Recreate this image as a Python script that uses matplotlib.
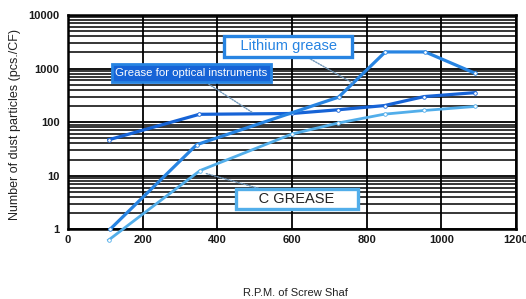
import matplotlib
matplotlib.use("Agg")
import matplotlib.pyplot as plt
import numpy as np

# RPM of screw shaft vs dust particle count (pcs./CF)
rpm_optical = [110, 352, 600, 723, 848, 954, 1090]
dust_optical = [47, 140, 145, 170, 204, 300, 355]

rpm_lithium = [113, 345, 725, 850, 957, 1089]
dust_lithium = [1.0, 38, 293, 2040, 2040, 824]

rpm_cgrease = [109, 354, 600, 723, 848, 954, 1090]
dust_cgrease = [0.63, 12.5, 60, 96, 141, 165, 196]

x_ticks = [0, 200, 400, 600, 800, 1000, 1200]
y_ticks = [1, 10, 100, 1000, 10000]

c_optical = "#1663d6"
c_lithium = "#2784e2"
c_cgrease = "#52aeea"

plt.rcParams['font.family'] = ['Liberation Sans', 'DejaVu Sans']

fig = plt.figure(figsize=(5.26, 2.99), dpi=100)
ax = fig.add_axes([0.129, 0.233, 0.852, 0.717])

ax.set_yscale('log')
ax.set_xlim(0, 1200)
ax.set_ylim(1, 10000)

# grid: every minor log line plus vertical lines every 200 rpm
ax.set_xticks(x_ticks)
ax.set_xticklabels([str(v) for v in x_ticks])
ax.set_yticks(y_ticks)
ax.set_yticklabels([str(v) for v in y_ticks])
ax.yaxis.set_minor_locator(matplotlib.ticker.LogLocator(base=10, subs=np.arange(2, 10)))
ax.yaxis.set_minor_formatter(matplotlib.ticker.NullFormatter())
ax.grid(which='major', axis='both', color='black', linewidth=1.3)
ax.grid(which='minor', axis='y', color='black', linewidth=1.1)
ax.tick_params(which='both', length=0)
ax.tick_params(axis='y', pad=6, labelsize=8)
ax.tick_params(axis='x', pad=4, labelsize=8)
for lbl in ax.get_xticklabels() + ax.get_yticklabels():
    lbl.set_fontweight('bold')
    lbl.set_color('#1a1a1a')
for s in ax.spines.values():
    s.set_linewidth(1.8)
ax.set_axisbelow(True)

mk = dict(marker='o', markersize=2.6, markerfacecolor='white', markeredgewidth=0.6,
          clip_on=False, solid_joinstyle='miter')
ax.plot(rpm_cgrease, dust_cgrease, color=c_cgrease, linewidth=2.0,
        markeredgecolor=c_cgrease, zorder=3, **mk)
ax.plot(rpm_optical, dust_optical, color=c_optical, linewidth=2.3,
        markeredgecolor=c_optical, zorder=4, **mk)
ax.plot(rpm_lithium, dust_lithium, color=c_lithium, linewidth=2.3,
        markeredgecolor=c_lithium, zorder=5, **mk)

# labels with dotted leader lines
leader = dict(arrowstyle='-', linestyle=(0, (1, 1)), color='#6f96b8', linewidth=1.0,
              shrinkA=0, shrinkB=0)
ax.annotate('   Lithium grease   ', xy=(762, 540), xytext=(0.492, 0.853),
            textcoords='axes fraction', ha='center', va='center',
            fontsize=10.5, color=c_lithium, zorder=6,
            bbox=dict(boxstyle='square,pad=0.22', fc='white', ec=c_lithium, lw=2.4),
            arrowprops=leader)
ax.annotate('Grease for optical instruments', xy=(495, 150), xytext=(0.276, 0.729),
            textcoords='axes fraction', ha='center', va='center',
            fontsize=8.2, color='white', zorder=6,
            family=['Liberation Sans Narrow', 'Liberation Sans', 'DejaVu Sans'],
            bbox=dict(boxstyle='square,pad=0.32', fc=c_optical, ec=c_lithium, lw=2.0),
            arrowprops=leader)
ax.annotate('     C GREASE     ', xy=(370, 11), xytext=(0.511, 0.141),
            textcoords='axes fraction', ha='center', va='center',
            fontsize=10.5, color='#222222', zorder=6,
            bbox=dict(boxstyle='square,pad=0.18', fc='white', ec=c_cgrease, lw=2.4),
            arrowprops=leader)

fig.text(0.029, 0.585, 'Number of dust particles (pcs./CF)', rotation=90,
         ha='center', va='center', fontsize=9, color='#222222')
fig.text(0.561, 0.02, 'R.P.M. of Screw Shaf', ha='center', va='center',
         fontsize=8, color='#222222')

fig.savefig('out.png', dpi=100)
